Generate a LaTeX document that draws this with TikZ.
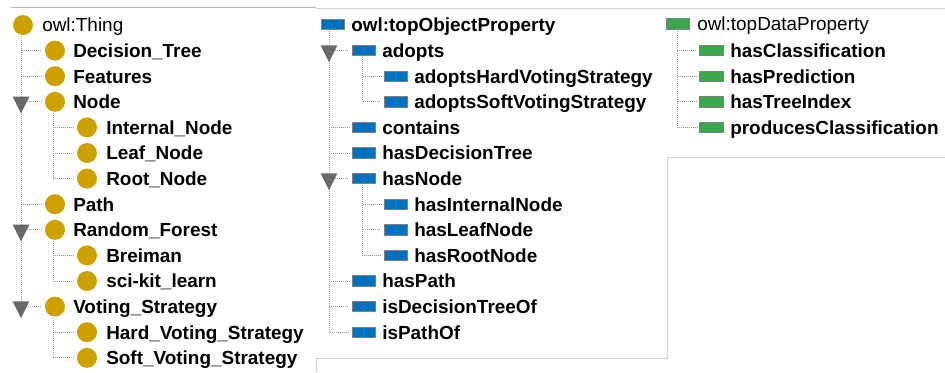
\documentclass[tikz,border=0pt]{standalone}
\usepackage{fontspec}
\setmainfont{Liberation Sans}
\usetikzlibrary{shapes.geometric}
\definecolor{clsgold}{RGB}{204,160,0}
\definecolor{objblue}{RGB}{0,112,192}
\definecolor{datagreen}{RGB}{56,168,74}
\definecolor{treegray}{RGB}{150,150,150}
\definecolor{toggray}{RGB}{105,105,105}
\definecolor{panelgray}{RGB}{208,208,208}

\begin{document}
\begin{tikzpicture}[x=0.75pt,y=-0.75pt,
	cls/.style={circle,fill=clsgold,inner sep=0pt,minimum size=15pt},
	objp/.style={rectangle,fill=objblue,draw=gray,line width=0.75pt,inner sep=0pt,minimum width=17.5pt,minimum height=7.8pt},
	datap/.style={objp,fill=datagreen},
	lbl/.style={anchor=west,inner sep=0pt,text height=10.2pt,text depth=0pt,font=\fontsize{14.2}{17}\selectfont\bfseries},
	rootlbl/.style={lbl,font=\fontsize{14.2}{17}\selectfont},
	tree/.style={treegray,line width=0.75pt,dash pattern=on 0.75pt off 0.75pt,shorten >=2pt},
	tog/.style={isosceles triangle,isosceles triangle apex angle=60,isosceles triangle stretches,shape border rotate=-90,fill=toggray,inner sep=0pt,outer sep=0pt,minimum width=12.5pt,minimum height=12.5pt},
	panel/.style={panelgray,line width=0.75pt}]
		\useasboundingbox (0,0) rectangle (945,372);
		\draw [panel,gray!60] (11,7) -- (316,7);
		\draw [panel] (316,8.5) -- (945,8.5);
		\draw [panel] (316,372) -- (316,358) -- (667,358) -- (667,157) -- (945,157);

		\node[cls] (thing) at (23,25) {};
		\node[rootlbl] (thing-t) at (42,25) {owl:Thing};
		\node[cls] (dtree) at (55,50.6) {};
		\node[lbl] (dtree-t) at (73,50.6) {Decision\_Tree};
		\node[cls] (feat) at (55,76.2) {};
		\node[lbl] (feat-t) at (73,76.2) {Features};
		\node[cls] (node) at (55,101.8) {};
		\node[lbl] (node-t) at (73,101.8) {Node};
		\node[cls] (inode) at (87,127.4) {};
		\node[lbl] (inode-t) at (106,127.4) {Internal\_Node};
		\node[cls] (lnode) at (87,153) {};
		\node[lbl] (lnode-t) at (106,153) {Leaf\_Node};
		\node[cls] (rnode) at (87,178.6) {};
		\node[lbl] (rnode-t) at (106,178.6) {Root\_Node};
		\node[cls] (path) at (55,204.2) {};
		\node[lbl] (path-t) at (73,204.2) {Path};
		\node[cls] (rf) at (55,229.8) {};
		\node[lbl] (rf-t) at (73,229.8) {Random\_Forest};
		\node[cls] (breiman) at (87,255.4) {};
		\node[lbl] (breiman-t) at (106,255.4) {Breiman};
		\node[cls] (sklearn) at (87,281) {};
		\node[lbl] (sklearn-t) at (106,281) {sci-kit\_learn};
		\node[cls] (vs) at (55,306.6) {};
		\node[lbl] (vs-t) at (73,306.6) {Voting\_Strategy};
		\node[cls] (hvs) at (87,332.2) {};
		\node[lbl] (hvs-t) at (106,332.2) {Hard\_Voting\_Strategy};
		\node[cls] (svs) at (87,357.8) {};
		\node[lbl] (svs-t) at (106,357.8) {Soft\_Voting\_Strategy};

		\coordinate (thing-s) at (21,36);
		\coordinate (node-s) at (53,113);
		\coordinate (rf-s) at (53,241);
		\coordinate (vs-s) at (53,318);
		\draw [tree] (thing-s) |- (dtree);
		\draw [tree] (thing-s) |- (feat);
		\draw [tree] (thing-s) |- (node);
		\draw [tree] (thing-s) |- (path);
		\draw [tree] (thing-s) |- (rf);
		\draw [tree] (thing-s) |- (vs);
		\draw [tree] (node-s) |- (inode);
		\draw [tree] (node-s) |- (lnode);
		\draw [tree] (node-s) |- (rnode);
		\draw [tree] (rf-s) |- (breiman);
		\draw [tree] (rf-s) |- (sklearn);
		\draw [tree] (vs-s) |- (hvs);
		\draw [tree] (vs-s) |- (svs);
		\node[tog] (node-x) at (21,101.8) {};
		\node[tog] (rf-x) at (21,229.8) {};
		\node[tog] (vs-x) at (21,306.6) {};

		\node[objp] (topobj) at (333,24.5) {};
		\node[lbl] (topobj-t) at (351,24.5) {owl:topObjectProperty};
		\node[objp] (adopts) at (364,50.6) {};
		\node[lbl] (adopts-t) at (382,50.6) {adopts};
		\node[objp] (ahvs) at (396,76.2) {};
		\node[lbl] (ahvs-t) at (414,76.2) {adoptsHardVotingStrategy};
		\node[objp] (asvs) at (396,101.8) {};
		\node[lbl] (asvs-t) at (414,101.8) {adoptsSoftVotingStrategy};
		\node[objp] (contains) at (364,127.4) {};
		\node[lbl] (contains-t) at (382,127.4) {contains};
		\node[objp] (hasdt) at (364,153) {};
		\node[lbl] (hasdt-t) at (382,153) {hasDecisionTree};
		\node[objp] (hasnode) at (364,178.6) {};
		\node[lbl] (hasnode-t) at (382,178.6) {hasNode};
		\node[objp] (hasin) at (396,204.2) {};
		\node[lbl] (hasin-t) at (414,204.2) {hasInternalNode};
		\node[objp] (hasln) at (396,229.8) {};
		\node[lbl] (hasln-t) at (414,229.8) {hasLeafNode};
		\node[objp] (hasrn) at (396,255.4) {};
		\node[lbl] (hasrn-t) at (414,255.4) {hasRootNode};
		\node[objp] (haspath) at (364,281) {};
		\node[lbl] (haspath-t) at (382,281) {hasPath};
		\node[objp] (isdt) at (364,306.6) {};
		\node[lbl] (isdt-t) at (382,306.6) {isDecisionTreeOf};
		\node[objp] (ispath) at (364,332.2) {};
		\node[lbl] (ispath-t) at (382,332.2) {isPathOf};

		\coordinate (topobj-s) at (329,31);
		\coordinate (adopts-s) at (362,57);
		\coordinate (hasnode-s) at (362,185);
		\draw [tree] (topobj-s) |- (adopts);
		\draw [tree] (topobj-s) |- (contains);
		\draw [tree] (topobj-s) |- (hasdt);
		\draw [tree] (topobj-s) |- (hasnode);
		\draw [tree] (topobj-s) |- (haspath);
		\draw [tree] (topobj-s) |- (isdt);
		\draw [tree] (topobj-s) |- (ispath);
		\draw [tree] (adopts-s) |- (ahvs);
		\draw [tree] (adopts-s) |- (asvs);
		\draw [tree] (hasnode-s) |- (hasin);
		\draw [tree] (hasnode-s) |- (hasln);
		\draw [tree] (hasnode-s) |- (hasrn);
		\node[tog] (adopts-x) at (329,50.6) {};
		\node[tog] (hasnode-x) at (329,178.6) {};

		\node[datap] (topdata) at (678,24) {};
		\node[rootlbl] (topdata-t) at (697,24) {owl:topDataProperty};
		\node[datap] (hascl) at (711.5,50.6) {};
		\node[lbl] (hascl-t) at (730,50.6) {hasClassification};
		\node[datap] (haspred) at (711.5,76.2) {};
		\node[lbl] (haspred-t) at (730,76.2) {hasPrediction};
		\node[datap] (hasti) at (711.5,101.8) {};
		\node[lbl] (hasti-t) at (730,101.8) {hasTreeIndex};
		\node[datap] (prodcl) at (711.5,127.4) {};
		\node[lbl] (prodcl-t) at (730,127.4) {producesClassification};

		\coordinate (topdata-s) at (677,31);
		\draw [tree] (topdata-s) |- (hascl);
		\draw [tree] (topdata-s) |- (haspred);
		\draw [tree] (topdata-s) |- (hasti);
		\draw [tree] (topdata-s) |- (prodcl);
	\end{tikzpicture}
\end{document}
